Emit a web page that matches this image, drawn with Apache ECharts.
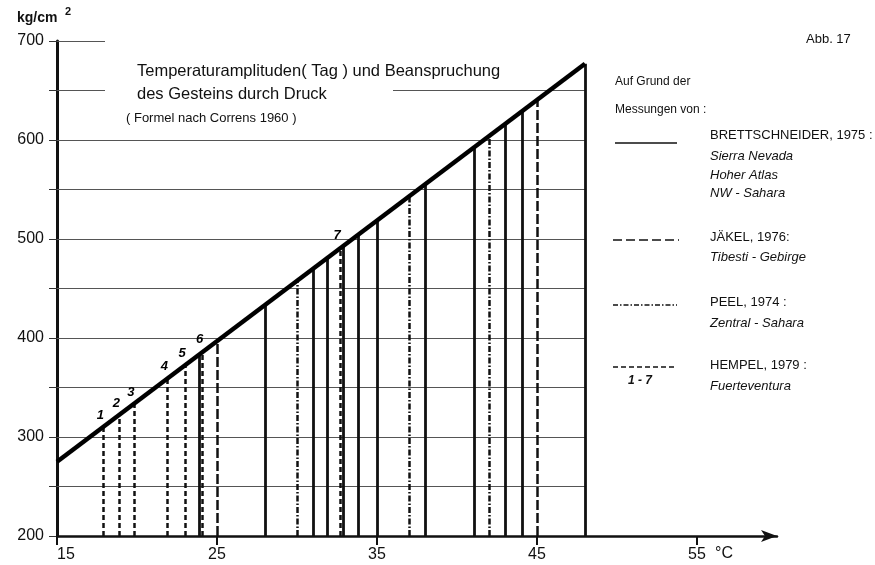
<!DOCTYPE html>
<html><head><meta charset="utf-8">
<script src="https://cdn.jsdelivr.net/npm/echarts@6/dist/echarts.min.js"></script>
<style>html,body{margin:0;padding:0;background:#fff}#c{width:875px;height:565px}</style>
</head><body><div id="c"></div>
<script>
// ---- data ----
const xTickValues = [15, 25, 35, 45, 55];
const yTickValues = [200, 250, 300, 350, 400, 450, 500, 550, 600, 650, 700];
const yLabelValues = [200, 300, 400, 500, 600, 700];
const correnT = [15, 48];
const correnP = [275, 677];
const brettT = [23.9, 28, 31, 31.9, 32.9, 33.8, 35, 38, 41.1, 43, 44.1, 48];
const brettP = [383, 433, 470, 481, 493, 504, 519, 555, 593, 616, 629, 677];
const jaekelT = [25, 45];
const jaekelP = [397, 640];
const peelT = [30, 37, 42];
const peelP = [458, 543, 604];
const hempelT = [17.9, 18.9, 19.8, 21.9, 23.0, 24.1, 32.7];
const hempelP = [310, 322, 333, 359, 372, 386, 491];
const hempelNums = ['1', '2', '3', '4', '5', '6', '7'];
const gridVals = [250, 300, 350, 400, 450, 500, 550, 600];
const gridFrom = [15, 15, 15, 15, 15, 15, 15, 15];
const gridTo = [48, 48, 48, 48, 48, 48, 48, 48];
const partialVals = [650, 650, 700];
const partialFrom = [15, 36, 15];
const partialTo = [18, 48, 18];

const FONT = '"Liberation Sans", Arial, sans-serif';
const chart = echarts.init(document.getElementById('c'));

function drops(T, P) { return T.map((t, i) => ({ coords: [[t, 200], [t, P[i]]] })); }
const gridData = gridVals.map((v, i) => ({ coords: [[gridFrom[i], v], [gridTo[i], v]] }))
  .concat(partialVals.map((v, i) => ({ coords: [[partialFrom[i], v], [partialTo[i], v]] })));

const txt = (x, y, s, size, extra) => Object.assign({
  type: 'text', x: x, y: y, silent: true,
  style: Object.assign({ text: s, font: (size || 12) + 'px ' + FONT, fill: '#111', verticalAlign: 'middle' }, extra || {})
});
const ital = (x, y, s) => txt(x, y, s, 13, { font: 'italic 13px ' + FONT });
const seg = (x1, x2, y, dash, w) => ({
  type: 'line', silent: true, shape: { x1: x1, y1: y, x2: x2, y2: y },
  style: { stroke: '#111', lineWidth: w || 1.5, lineDash: dash || null }
});

const option = {
  backgroundColor: '#fff',
  animation: false,
  grid: { left: 57, right: 98, top: 41, bottom: 29 },
  xAxis: {
    type: 'value', min: 15, max: 60,
    axisLine: { lineStyle: { color: '#111', width: 2.5 }, symbol: ['none', 'arrow'], symbolSize: [9, 16], symbolOffset: [0, 0] },
    axisTick: { customValues: xTickValues, length: 9, lineStyle: { color: '#111', width: 2 } },
    axisLabel: { customValues: xTickValues, color: '#111', fontSize: 16, fontFamily: FONT, margin: 11, alignMinLabel: 'left' },
    splitLine: { show: false }
  },
  yAxis: {
    type: 'value', min: 200, max: 700,
    axisLine: { show: true, lineStyle: { color: '#111', width: 3 } },
    axisTick: { show: true, customValues: yTickValues, length: 8, lineStyle: { color: '#333', width: 1 } },
    axisLabel: { customValues: yLabelValues, color: '#111', fontSize: 16, fontFamily: FONT, margin: 13 },
    splitLine: { show: false }
  },
  series: [
    { type: 'lines', coordinateSystem: 'cartesian2d', z: 1, silent: true,
      lineStyle: { color: '#555', width: 1, opacity: 1 }, data: gridData },
    { type: 'lines', coordinateSystem: 'cartesian2d', z: 2, silent: true,
      lineStyle: { color: '#111', width: 2.8, opacity: 1 }, data: drops(brettT, brettP) },
    { type: 'lines', coordinateSystem: 'cartesian2d', z: 2, silent: true,
      lineStyle: { color: '#111', width: 2.5, opacity: 1, type: [10, 3] }, data: drops(jaekelT, jaekelP) },
    { type: 'lines', coordinateSystem: 'cartesian2d', z: 2, silent: true,
      lineStyle: { color: '#111', width: 2.5, opacity: 1, type: [6, 2, 1.5, 2] }, data: drops(peelT, peelP) },
    { type: 'lines', coordinateSystem: 'cartesian2d', z: 2, silent: true,
      lineStyle: { color: '#111', width: 2.5, opacity: 1, type: [5, 3] }, data: drops(hempelT, hempelP) },
    { type: 'line', z: 3, silent: true, symbol: 'none',
      lineStyle: { color: '#000', width: 4.5, cap: 'butt' },
      data: correnT.map((t, i) => [t, correnP[i]]) },
    { type: 'scatter', z: 4, silent: true, symbol: 'circle', symbolSize: 1,
      itemStyle: { color: '#000', opacity: 1 },
      label: { show: true, position: 'top', distance: 5, offset: [-3, 0], color: '#000', opacity: 1,
        fontStyle: 'italic', fontWeight: 'bold', fontSize: 13, fontFamily: FONT,
        formatter: p => hempelNums[p.dataIndex] },
      data: hempelT.map((t, i) => [t, hempelP[i]]) }
  ],
  graphic: [
    // axis unit
    txt(17, 18, 'kg/cm', 14, { font: 'bold 14px ' + FONT }),
    txt(65, 12, '2', 11, { font: 'bold 11px ' + FONT }),
    txt(715, 554, '°C', 16),
    // title
    txt(137, 71, 'Temperaturamplituden( Tag ) und Beanspruchung', 16.5),
    txt(137, 94, 'des Gesteins durch Druck', 16.5),
    txt(126, 118, '( Formel nach Correns 1960 )', 13),
    txt(806, 39, 'Abb. 17', 13),
    // legend
    txt(615, 82, 'Auf Grund der', 12),
    txt(615, 110, 'Messungen von :', 12),
    seg(615, 677, 143, null, 1.5),
    txt(710, 135, 'BRETTSCHNEIDER, 1975 :', 13),
    ital(710, 156, 'Sierra Nevada'),
    ital(710, 175, 'Hoher Atlas'),
    ital(710, 193, 'NW - Sahara'),
    seg(613, 679, 240, [9, 4], 1.5),
    txt(710, 237, 'JÄKEL, 1976:', 13),
    ital(710, 257, 'Tibesti - Gebirge'),
    seg(613, 677, 305, [5, 2, 1.5, 2], 1.5),
    txt(710, 302, 'PEEL, 1974 :', 13),
    ital(710, 323, 'Zentral - Sahara'),
    seg(613, 677, 367, [5, 3], 1.5),
    txt(710, 365, 'HEMPEL, 1979 :', 13),
    txt(628, 381, '1 - 7', 12, { font: 'italic bold 12px ' + FONT }),
    ital(710, 386, 'Fuerteventura')
  ]
};
chart.setOption(option);
</script>
</body></html>
